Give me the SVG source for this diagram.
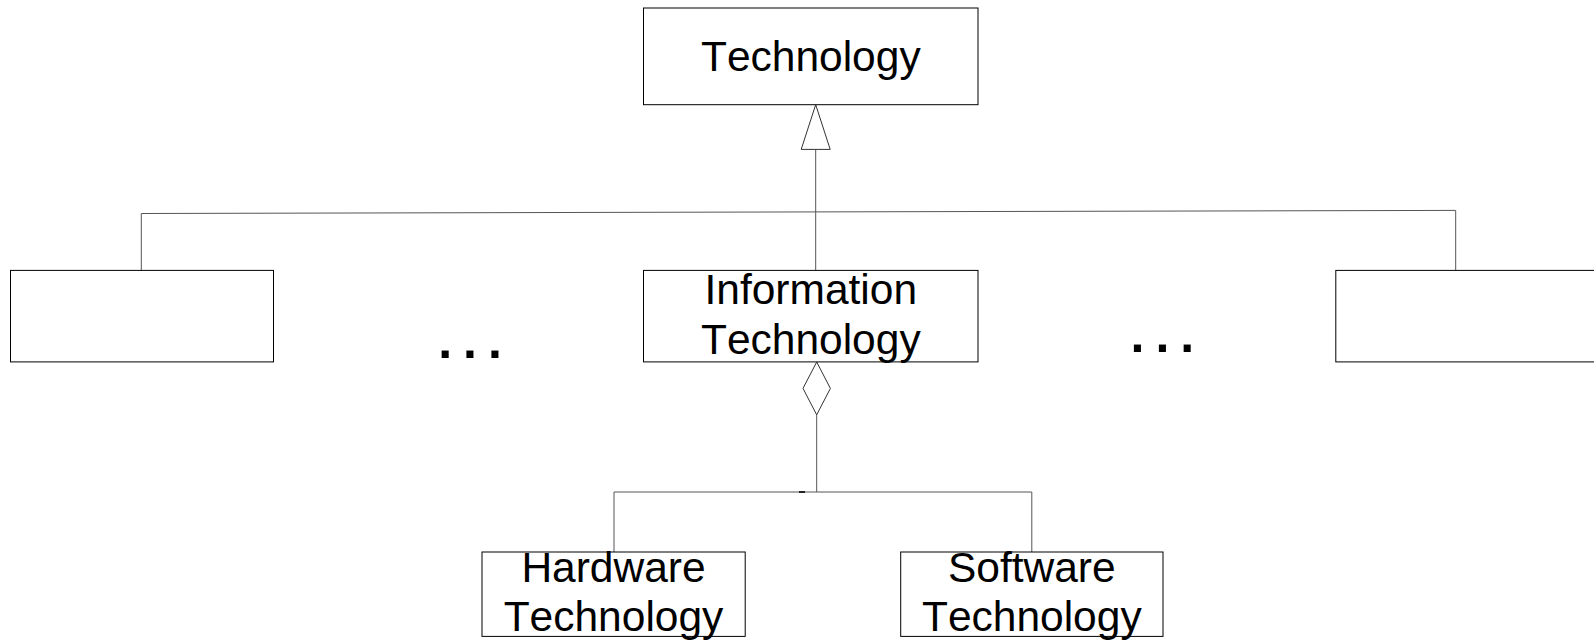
<svg xmlns="http://www.w3.org/2000/svg" width="1594" height="641" viewBox="0 0 1594 641">
  <style>
    .box { fill: #fff; stroke: #000; stroke-width: 1; }
    .lbl { font-family: "Liberation Sans", Arial, sans-serif; font-size: 42.5px; fill: #000; text-anchor: middle; font-kerning: none; }
    .dots { font-family: "Liberation Sans", Arial, sans-serif; font-size: 50px; font-weight: bold; fill: #000; letter-spacing: 11px; }
    .conn { fill: none; stroke: #555; stroke-width: 1; }
    .head { fill: #fff; stroke: #333; stroke-width: 1; }
  </style>
  <rect width="1594" height="641" fill="#fff"/>
  <g id="connectors">
    <path class="conn" d="M141.3,270.4 L141.3,213.5 L1455.7,210.4 L1455.7,270.4"/>
    <path class="conn" d="M815.7,149.4 L815.7,270.4"/>
    <polygon class="head" points="815.7,104.7 801.2,149.4 830.2,149.4"/>
    <path class="conn" d="M816.7,414.8 L816.7,492 M614,552 L614,492 L1031.8,492 L1031.8,552"/>
    <line x1="799" y1="492" x2="805" y2="492" stroke="#222" stroke-width="2"/>
    <polygon class="head" points="816.7,362 803,388.4 816.7,414.8 830.4,388.4"/>
  </g>
  <g id="technology">
    <rect class="box" x="643.5" y="8" width="334.5" height="96.7"/>
    <text class="lbl" x="810.8" y="71">Technology</text>
  </g>
  <g id="left-box">
    <rect class="box" x="10.5" y="270.4" width="263" height="91.5"/>
  </g>
  <g id="information-technology">
    <rect class="box" x="643.5" y="270.4" width="334.5" height="91.5"/>
    <text class="lbl" x="810.8" y="303.5">Information</text>
    <text class="lbl" x="810.8" y="354">Technology</text>
  </g>
  <g id="right-box">
    <rect class="box" x="1335.8" y="270.4" width="263" height="91.5"/>
  </g>
  <g id="dots-left">
    <text class="dots" x="438.2" y="358.3">...</text>
  </g>
  <g id="dots-right">
    <text class="dots" x="1130.5" y="352.3">...</text>
  </g>
  <g id="hardware-technology">
    <rect class="box" x="482" y="552" width="263.2" height="84.4"/>
    <text class="lbl" x="613.5" y="582">Hardware</text>
    <text class="lbl" x="613.5" y="631">Technology</text>
  </g>
  <g id="software-technology">
    <rect class="box" x="900.7" y="552" width="262.3" height="84.4"/>
    <text class="lbl" x="1031.8" y="582">Software</text>
    <text class="lbl" x="1031.8" y="631">Technology</text>
  </g>
</svg>
